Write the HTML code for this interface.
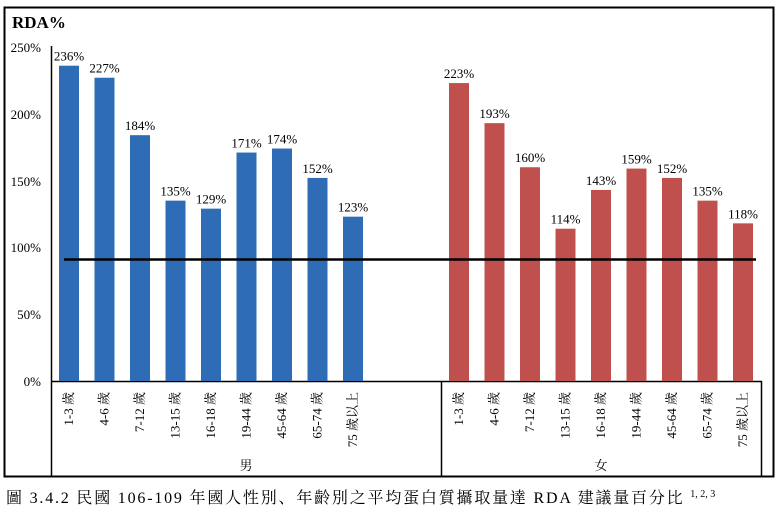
<!DOCTYPE html>
<html><head><meta charset="utf-8"><style>body{margin:0;background:#fff}svg{display:block}text{font-family:"Liberation Serif","Noto Serif CJK SC",serif;fill:#000}</style></head>
<body>
<svg width="780" height="512" xmlns="http://www.w3.org/2000/svg">
<rect x="4.5" y="7.5" width="769" height="469" fill="none" stroke="#000" stroke-width="2"/>
<text x="12" y="28" font-size="17" font-weight="bold">RDA%</text>
<g font-size="13" text-anchor="end">
<text x="41" y="52">250%</text><text x="41" y="119">200%</text><text x="41" y="186">150%</text>
<text x="41" y="252">100%</text><text x="41" y="319">50%</text><text x="41" y="386">0%</text>
</g>
<line x1="51.5" y1="46" x2="51.5" y2="476" stroke="#000" stroke-width="1.5"/>
<line x1="51" y1="381.5" x2="762" y2="381.5" stroke="#000" stroke-width="1.5"/>
<line x1="441.5" y1="381" x2="441.5" y2="476" stroke="#000" stroke-width="1.5"/>
<line x1="761.5" y1="381" x2="761.5" y2="476" stroke="#000" stroke-width="1.5"/>
<g id="bars"></g>
<line x1="64" y1="259.5" x2="756" y2="259.5" stroke="#000" stroke-width="2.5"/>
<text x="246" y="470" font-size="13" text-anchor="middle">男</text>
<text x="601" y="470" font-size="13" text-anchor="middle">女</text>
<text x="6" y="503" font-size="16" letter-spacing="1.8">圖 3.4.2 民國 106-109 年國人性別、年齡別之平均蛋白質攝取量達 RDA 建議量百分比 <tspan font-size="10" dy="-6" letter-spacing="0">1, 2, 3</tspan></text>
<script>
var g=document.getElementById('bars'),ns='http://www.w3.org/2000/svg';
var labs=['1-3 歲','4-6 歲','7-12 歲','13-15 歲','16-18 歲','19-44 歲','45-64 歲','65-74 歲','75 歲以上'];
var m=[236,227,184,135,129,171,174,152,123],f=[223,193,160,114,143,159,152,135,118];
function add(vals,x0,col){for(var i=0;i<9;i++){var cx=x0+i*35.5,v=vals[i],y=381-v*1.336;
var r=document.createElementNS(ns,'rect');r.setAttribute('x',cx-10);r.setAttribute('y',y);r.setAttribute('width',20);r.setAttribute('height',381-y);r.setAttribute('fill',col);g.appendChild(r);
var t=document.createElementNS(ns,'text');t.setAttribute('x',cx);t.setAttribute('y',y-5);t.setAttribute('font-size','13');t.setAttribute('text-anchor','middle');t.textContent=v+'%';g.appendChild(t);
var l=document.createElementNS(ns,'text');l.setAttribute('transform','translate('+(cx+4)+',392) rotate(-90)');l.setAttribute('font-size','13');l.setAttribute('text-anchor','end');l.textContent=labs[i];g.appendChild(l);}}
add(m,69,'#2e6db5');add(f,459,'#c0504d');
</script>
</svg>
</body></html>
